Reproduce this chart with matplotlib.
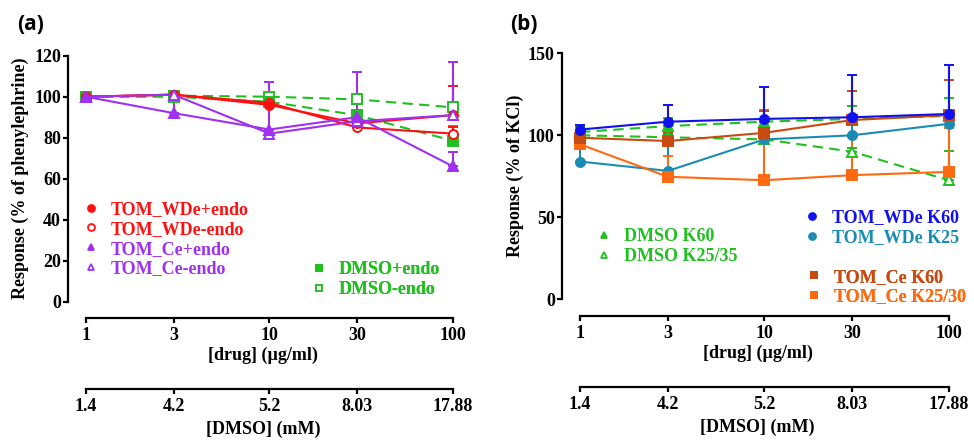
import numpy as np
import matplotlib
matplotlib.use("Agg")
import matplotlib.pyplot as plt
from matplotlib.lines import Line2D

plt.rcParams["font.family"] = ["Liberation Serif", "DejaVu Serif"]
plt.rcParams["font.weight"] = "bold"
plt.rcParams["axes.labelweight"] = "bold"
plt.rcParams["font.size"] = 13

# concentrations
drug = [1, 3, 10, 30, 100]
drug_labels = ["1", "3", "10", "30", "100"]
dmso_labels = ["1.4", "4.2", "5.2", "8.03", "17.88"]

# panel (a): % of phenylephrine
wde_pos = [100, 101, 96, 87, 91]
wde_pos_err = [0, 1, 6, 6, 14]
wde_neg = [100, 101, 97, 85, 82]
wde_neg_err = [0, 1, 2, 2, 3]
ce_pos = [100, 92, 84, 90, 66]
ce_pos_err = [0, 11, 0, 0, 7]
ce_neg = [100, 101, 82, 88, 91]
ce_neg_err = [0, 2, 25, 24, 26]
dmso_pos = [100, 100, 97.5, 91, 78.5]
dmso_pos_err = [0, 1, 2, 2, 7]
dmso_neg = [100, 100.5, 100, 98.7, 94.8]
dmso_neg_err = [0, 1, 1, 1, 2]

# panel (b): % of KCl
wde_k60 = [103.5, 108.3, 110, 111, 113]
wde_k60_err = [3, 10, 19.5, 26, 30]
wde_k25 = [84, 78.3, 97.5, 100, 107]
wde_k25_err = [8, 16, 6, 12, 3]
ce_k60 = [98.5, 96.5, 101.5, 109.3, 112.3]
ce_k60_err = [3, 5, 13.5, 18, 21.5]
ce_k25 = [94.5, 74.7, 72.6, 75.7, 77.7]
ce_k25_err = [5, 12.6, 25, 23.5, 27]
dmso_k60 = [102, 105.6, 108.3, 110, 111.8]
dmso_k60_err = [3, 5, 7, 8, 11]
dmso_k25 = [100, 98.8, 97.5, 90, 72.6]
dmso_k25_err = [2, 2, 2, 2, 18]

RED = "#ff1010"
PURPLE = "#a030f0"
GREEN = "#20c020"
BLUE = "#1010f0"
TEAL = "#1a8cb4"
BROWN = "#c84a10"
ORANGE = "#ff6a10"

W, H = 974, 443
fig = plt.figure(figsize=(W / 100, H / 100), dpi=100)


def series(ax, y, err, color, marker, filled, ls="-"):
    ax.errorbar(drug, y, yerr=[np.zeros(len(err)), err], color=color, ls=ls,
                lw=1.5, marker=marker, ms=6.5,
                mfc=color if filled else "white", mec=color, mew=1.4,
                ecolor=color, elinewidth=1.5, capsize=3.5, capthick=1.5,
                dashes=(5, 3) if ls == "--" else (None, None))


def style_main(ax, ymax, yticks):
    ax.set_xscale("log")
    ax.set_xlim(0.798, 106.5)
    ax.set_ylim(0, ymax)
    ax.set_yticks(yticks)
    ax.set_xticks(drug)
    ax.set_xticklabels(drug_labels)
    ax.xaxis.set_minor_locator(matplotlib.ticker.NullLocator())
    for s in ["top", "right"]:
        ax.spines[s].set_visible(False)
    ax.spines["bottom"].set_position(("outward", 12))
    ax.spines["bottom"].set_bounds(1, 100)
    for s in ["bottom", "left"]:
        ax.spines[s].set_linewidth(1.6)
    ax.tick_params(axis="both", width=1.6, length=3.5, labelsize=13)
    ax.tick_params(axis="y", pad=1.5)
    ax.tick_params(axis="x", pad=3)
    ax.set_xlabel("[drug] (\u00b5g/ml)", labelpad=2)
    ax.patch.set_alpha(0)


def dmso_axis(ax):
    pos = ax.get_position()
    dax = fig.add_axes([pos.x0, pos.y0 - 87.5 / H, pos.width, 0.001])
    dax.set_xscale("log")
    dax.set_xlim(ax.get_xlim())
    dax.set_xticks(drug)
    dax.set_xticklabels(dmso_labels)
    dax.xaxis.set_minor_locator(matplotlib.ticker.NullLocator())
    dax.set_yticks([])
    for s in ["top", "right", "left"]:
        dax.spines[s].set_visible(False)
    dax.spines["bottom"].set_bounds(1, 100)
    dax.spines["bottom"].set_linewidth(1.6)
    dax.tick_params(axis="x", width=1.6, length=3.5, labelsize=13, pad=3)
    dax.set_xlabel("[DMSO] (mM)", labelpad=4)
    dax.patch.set_alpha(0)


def legend(ax, items, anchor):
    handles = [Line2D([], [], ls="none", marker=m, ms=5, color=c,
                      mfc=c if f else "white", mec=c, mew=1.3)
               for c, m, f, _ in items]
    leg = ax.legend(handles, [t for *_, t in items], loc="upper left",
                    bbox_to_anchor=anchor, frameon=False, handlelength=1.0,
                    handletextpad=0.6, labelspacing=0.16, borderpad=0,
                    borderaxespad=0, prop={"family": "Liberation Serif",
                                           "weight": "bold", "size": 13})
    for t, (c, *_) in zip(leg.get_texts(), items):
        t.set_color(c)
    ax.add_artist(leg)


# ---- panel (a)
ax1 = fig.add_axes([68 / W, 1 - 301.7 / H, 390 / W, 246 / H])
series(ax1, dmso_neg, dmso_neg_err, GREEN, "s", False, "--")
series(ax1, dmso_pos, dmso_pos_err, GREEN, "s", True, "--")
series(ax1, wde_neg, wde_neg_err, RED, "o", False)
series(ax1, wde_pos, wde_pos_err, RED, "o", True)
series(ax1, ce_neg, ce_neg_err, PURPLE, "^", False)
series(ax1, ce_pos, ce_pos_err, PURPLE, "^", True)
style_main(ax1, 120, [0, 20, 40, 60, 80, 100, 120])
ax1.set_ylabel("Response (% of phenylephrine)")
ax1.yaxis.set_label_coords(-0.1, 0.5)
legend(ax1, [(RED, "o", True, "TOM_WDe+endo"),
             (RED, "o", False, "TOM_WDe-endo"),
             (PURPLE, "^", True, "TOM_Ce+endo"),
             (PURPLE, "^", False, "TOM_Ce-endo")], (0.035, 0.41))
legend(ax1, [(GREEN, "s", True, "DMSO+endo"),
             (GREEN, "s", False, "DMSO-endo")], (0.62, 0.165))
dmso_axis(ax1)

# ---- panel (b)
ax2 = fig.add_axes([561.7 / W, 1 - 299.3 / H, 392 / W, 246 / H])
series(ax2, dmso_k25, dmso_k25_err, GREEN, "^", False, "--")
series(ax2, dmso_k60, dmso_k60_err, GREEN, "^", True, "--")
series(ax2, wde_k25, wde_k25_err, TEAL, "o", True)
series(ax2, ce_k25, ce_k25_err, ORANGE, "s", True)
series(ax2, ce_k60, ce_k60_err, BROWN, "s", True)
series(ax2, wde_k60, wde_k60_err, BLUE, "o", True)
style_main(ax2, 150, [0, 50, 100, 150])
ax2.set_xlim(0.796, 106.4)
ax2.set_ylabel("Response (% of KCl)")
ax2.yaxis.set_label_coords(-0.096, 0.5)
legend(ax2, [(GREEN, "^", True, "DMSO K60"),
             (GREEN, "^", False, "DMSO K25/35")], (0.085, 0.29))
legend(ax2, [(BLUE, "o", True, "TOM_WDe K60"),
             (TEAL, "o", True, "TOM_WDe K25")], (0.615, 0.365))
legend(ax2, [(BROWN, "s", True, "TOM_Ce K60"),
             (ORANGE, "s", True, "TOM_Ce K25/30")], (0.62, 0.125))
dmso_axis(ax2)

fig.text(17 / W, 1 - 25 / H, "(a)", family="Open Sans", weight="bold",
         fontsize=15, va="center", ha="left")
fig.text(510 / W, 1 - 25 / H, "(b)", family="Open Sans", weight="bold",
         fontsize=15, va="center", ha="left")

fig.savefig("out.png", dpi=100)
